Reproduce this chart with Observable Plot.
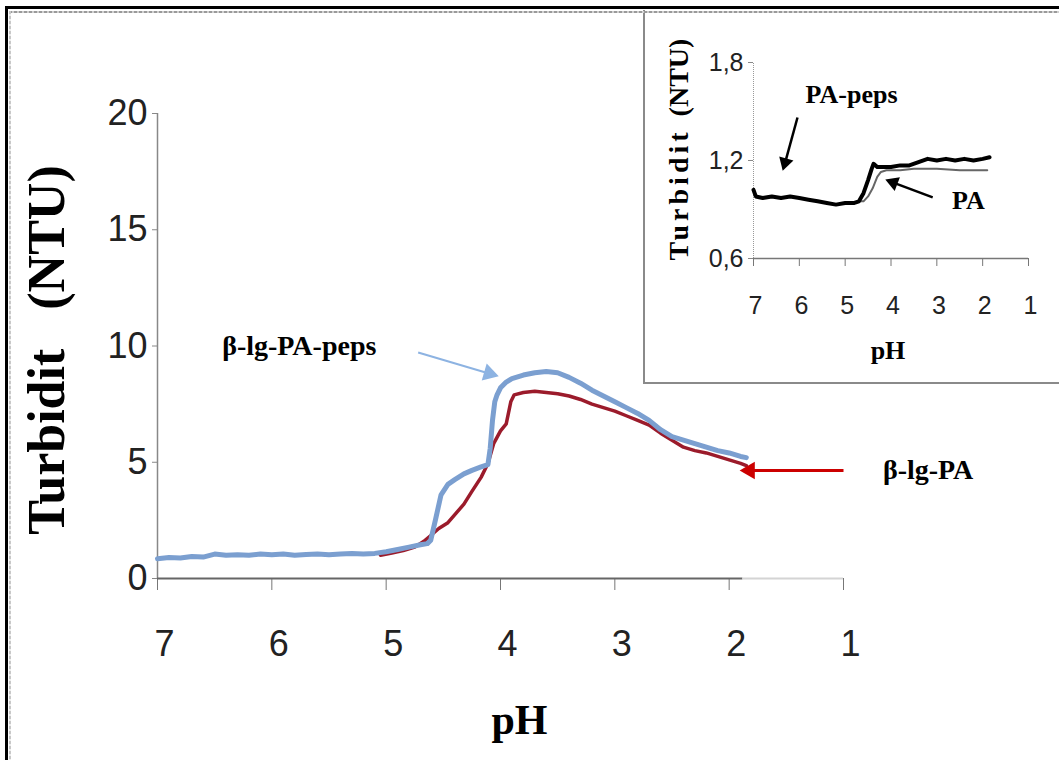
<!DOCTYPE html>
<html>
<head>
<meta charset="utf-8">
<script src="https://cdn.jsdelivr.net/npm/d3@7"></script>
<script src="https://cdn.jsdelivr.net/npm/@observablehq/plot@0.6"></script>
<style>
  html, body { margin: 0; padding: 0; background: #fff; }
  #wrap { position: relative; width: 1059px; height: 760px; overflow: hidden; background: #fff; }
  #main { position: absolute; left: 0; top: 0; }
  #inset { position: absolute; left: 643px; top: 10px; width: 416px; height: 372px;
           border-left: 2px solid #8a8a8a; border-bottom: 2px solid #8a8a8a; background: #fff; }
  .fr { position: absolute; background: #000; }
  .dot { position: absolute; }
</style>
</head>
<body>
<div id="wrap">
  <div id="main"></div>
  <div id="inset"></div>
  <div class="fr" style="left:5px;top:6px;width:1054px;height:3px"></div>
  <div class="fr" style="left:5px;top:6px;width:3px;height:754px"></div>
  <div class="dot" style="left:9px;top:11px;width:1050px;height:2px;background:repeating-linear-gradient(90deg,#9a9a9a 0 3px,#d0d0d0 3px 5px)"></div>
  <div class="dot" style="left:9px;top:11px;width:2px;height:749px;background:repeating-linear-gradient(180deg,#c8c8c8 0 3px,#eee 3px 5px)"></div>
</div>
<script>
// ---------- Main chart data ----------
const xTicks = [7, 6, 5, 4, 3, 2, 1];
const xTickLabels = ["7", "6", "5", "4", "3", "2", "1"];
const yTicks = [0, 5, 10, 15, 20];

// beta-lg-PA-peps (blue)
const pepsPH  = [7.0, 6.9, 6.8, 6.7, 6.6, 6.5, 6.4, 6.3, 6.2, 6.1, 6.0, 5.9, 5.8, 5.7, 5.6, 5.5, 5.4, 5.3, 5.2, 5.1,
                 5.0, 4.9, 4.8, 4.7, 4.64, 4.61, 4.57, 4.52, 4.46, 4.4, 4.32, 4.25, 4.17, 4.11, 4.09, 4.07, 4.05, 4.03,
                 4.0, 3.95, 3.9, 3.8, 3.7, 3.6, 3.5, 3.4, 3.3, 3.2, 3.1, 3.0, 2.9, 2.8, 2.7, 2.6, 2.5, 2.4, 2.3, 2.2,
                 2.1, 2.0, 1.9, 1.85];
const pepsNTU = [0.85, 0.9, 0.88, 0.95, 0.92, 1.05, 1.0, 1.02, 1.0, 1.05, 1.02, 1.05, 1.0, 1.03, 1.05, 1.02, 1.05, 1.08, 1.05, 1.08,
                 1.15, 1.25, 1.35, 1.45, 1.5, 1.65, 2.5, 3.6, 4.05, 4.25, 4.5, 4.65, 4.8, 4.9, 5.6, 6.8, 7.6, 7.9,
                 8.2, 8.45, 8.6, 8.75, 8.85, 8.9, 8.85, 8.65, 8.4, 8.1, 7.85, 7.6, 7.35, 7.1, 6.8, 6.4, 6.1, 5.95, 5.8, 5.65,
                 5.5, 5.4, 5.25, 5.2];

// beta-lg-PA (red)
const paPH  = [5.05, 4.95, 4.85, 4.75, 4.67, 4.61, 4.54, 4.46, 4.39, 4.32, 4.25, 4.17, 4.11, 4.06, 4.0, 3.95, 3.91, 3.88,
               3.8, 3.7, 3.6, 3.5, 3.4, 3.3, 3.2, 3.1, 3.0, 2.9, 2.8, 2.7, 2.6, 2.5, 2.4, 2.3, 2.2, 2.1, 2.0, 1.9, 1.85];
const paNTU = [1.0, 1.1, 1.2, 1.35, 1.6, 1.85, 2.15, 2.4, 2.8, 3.2, 3.75, 4.35, 4.95, 5.8, 6.35, 6.65, 7.6, 7.9,
               8.0, 8.05, 8.0, 7.95, 7.85, 7.7, 7.5, 7.35, 7.2, 7.0, 6.8, 6.6, 6.25, 5.95, 5.65, 5.5, 5.4, 5.25, 5.1, 4.95, 4.85];

// ---------- Inset data ----------
const insetXTicks = [7, 6, 5, 4, 3, 2, 1];
const insetXTickLabels = ["7", "6", "5", "4", "3", "2", "1"];
const insetYTicks = [0.6, 1.2, 1.8];
const insetYTickLabels = ["0,6", "1,2", "1,8"];

const inPepsPH  = [7.0, 6.95, 6.8, 6.6, 6.4, 6.2, 6.0, 5.8, 5.6, 5.4, 5.2, 5.0, 4.8, 4.7, 4.6, 4.5, 4.42, 4.38,
                   4.3, 4.2, 4.0, 3.8, 3.6, 3.4, 3.2, 3.0, 2.8, 2.6, 2.4, 2.2, 2.0, 1.85];
const inPepsNTU = [1.02, 0.98, 0.97, 0.98, 0.97, 0.98, 0.97, 0.96, 0.95, 0.94, 0.93, 0.94, 0.94, 0.95, 1.0, 1.08, 1.15, 1.18,
                   1.16, 1.16, 1.16, 1.17, 1.17, 1.19, 1.21, 1.2, 1.21, 1.2, 1.21, 1.2, 1.21, 1.22];
const inPaPH  = [4.7, 4.6, 4.5, 4.4, 4.3, 4.22, 4.1, 3.8, 3.5, 3.0, 2.5, 2.0, 1.9];
const inPaNTU = [0.95, 0.95, 0.98, 1.03, 1.1, 1.13, 1.14, 1.14, 1.15, 1.15, 1.14, 1.14, 1.14];

// ---------- Annotations ----------
const mainLabels = [
  {text: "β-lg-PA-peps", x: 5.76, y: 10.0},
  {text: "β-lg-PA", x: 0.26, y: 4.65}
];
// shaft from (x1,y1) to head centre (x2,y2); head rotation in degrees
const mainArrows = [
  {x1: 4.72, y1: 9.72, x2: 4.10, y2: 8.82, rot: 106.4, color: "#8db3e2", w: 2},
  {x1: 1.0, y1: 4.65, x2: 1.82, y2: 4.65, rot: 270, color: "#cc0000", w: 3}
];
const insetLabels = [
  {text: "PA-peps", x: 4.86, y: 1.6},
  {text: "PA", x: 2.31, y: 0.955}
];
const insetArrows = [
  {x1: 6.04, y1: 1.463, x2: 6.31, y2: 1.187, rot: 196.4},
  {x1: 3.09, y1: 0.974, x2: 3.95, y2: 1.065, rot: 290.7}
];

const peps = pepsPH.map((p, i) => ({pH: p, ntu: pepsNTU[i]}));
const pa = paPH.map((p, i) => ({pH: p, ntu: paNTU[i]}));
const inPeps = inPepsPH.map((p, i) => ({pH: p, ntu: inPepsNTU[i]}));
const inPa = inPaPH.map((p, i) => ({pH: p, ntu: inPaNTU[i]}));

const serif = "'Liberation Serif', 'Times New Roman', serif";
const sans = "'Liberation Sans', Arial, sans-serif";

const main = Plot.plot({
  width: 1059, height: 760,
  marginLeft: 157, marginRight: 216, marginTop: 113, marginBottom: 182,
  x: {domain: [7, 1]},
  y: {domain: [0, 20]},
  style: {background: "transparent", fontFamily: sans, overflow: "visible"},
  marks: [
    Plot.axisY({ticks: yTicks, tickSize: 5, tickPadding: 5, fontSize: 36, stroke: "#888", fill: "#222", label: null}),
    Plot.axisX({ticks: xTicks, tickSize: 12, tickFormat: () => "", stroke: "#777", label: null}),
    Plot.axisX({ticks: xTicks, tickSize: 0, tickPadding: 52, dx: 7, fontSize: 36, fill: "#222", label: null,
      tickFormat: d => xTickLabels[xTicks.indexOf(d)]}),
    Plot.ruleX([7], {y1: 0, y2: 20, stroke: "#888", strokeWidth: 1.5}),
    Plot.ruleY([0], {x1: 7, x2: 1.88, stroke: "#666", strokeWidth: 2}),
    Plot.ruleY([0], {x1: 1.88, x2: 1, stroke: "#d4d4d4", strokeWidth: 2}),
    Plot.line(pa, {x: "pH", y: "ntu", stroke: "#9b1b2b", strokeWidth: 3.5, strokeLinejoin: "round"}),
    Plot.line(peps, {x: "pH", y: "ntu", stroke: "#7b9fd0", strokeWidth: 5, strokeLinejoin: "round"}),
    Plot.link(mainArrows, {x1: "x1", y1: "y1", x2: "x2", y2: "y2", stroke: d => d.color, strokeWidth: d => d.w}),
    Plot.dot(mainArrows, {x: "x2", y: "y2", symbol: "triangle", r: 6.5, rotate: "rot", fill: d => d.color, stroke: "none"}),
    Plot.text(mainLabels, {x: "x", y: "y", text: "text", fontFamily: serif, fontWeight: "bold", fontSize: 28, fill: "#000", textAnchor: "middle", lineAnchor: "middle"}),
    Plot.text(["Turbidit\u00a0\u00a0\u00a0(NTU)"], {frameAnchor: "left", dx: -110, dy: 4, rotate: -90, fontFamily: serif, fontWeight: "bold", fontSize: 52, fill: "#000", textAnchor: "middle", lineAnchor: "middle"}),
    Plot.text(["pH"], {frameAnchor: "bottom", dx: 19, dy: 142, fontFamily: serif, fontWeight: "bold", fontSize: 42, fill: "#000", textAnchor: "middle", lineAnchor: "middle"})
  ]
});
document.getElementById("main").appendChild(main);

const inset = Plot.plot({
  width: 414, height: 372,
  marginLeft: 108, marginRight: 31, marginTop: 52, marginBottom: 124,
  x: {domain: [7, 1]},
  y: {domain: [0.6, 1.8]},
  style: {background: "transparent", fontFamily: sans, overflow: "visible"},
  marks: [
    Plot.axisY({ticks: insetYTicks, tickSize: 5, tickPadding: 5, fontSize: 25, stroke: "#888", fill: "#222", label: null,
      tickFormat: d => insetYTickLabels[insetYTicks.indexOf(d)]}),
    Plot.axisX({ticks: insetXTicks, tickSize: 8, tickFormat: () => "", stroke: "#777", label: null}),
    Plot.axisX({ticks: insetXTicks, tickSize: 0, tickPadding: 38, dx: 2, fontSize: 25, fill: "#222", label: null,
      tickFormat: d => insetXTickLabels[insetXTicks.indexOf(d)]}),
    Plot.ruleX([7], {y1: 0.6, y2: 1.8, stroke: "#999", strokeWidth: 1, strokeDasharray: "1,1"}),
    Plot.ruleY([0.6], {x1: 7, x2: 1, stroke: "#777", strokeWidth: 1.5}),
    Plot.line(inPa, {x: "pH", y: "ntu", stroke: "#666", strokeWidth: 2}),
    Plot.line(inPeps, {x: "pH", y: "ntu", stroke: "#000", strokeWidth: 4, strokeLinejoin: "round"}),
    Plot.link(insetArrows, {x1: "x1", y1: "y1", x2: "x2", y2: "y2", stroke: "#000", strokeWidth: 2.5}),
    Plot.dot(insetArrows, {x: "x2", y: "y2", symbol: "triangle", r: 5.5, rotate: "rot", fill: "#000", stroke: "none"}),
    Plot.text(insetLabels, {x: "x", y: "y", text: "text", fontFamily: serif, fontWeight: "bold", fontSize: 26, fill: "#000", textAnchor: "middle", lineAnchor: "middle"}),
    Plot.text(["(NTU)"], {frameAnchor: "left", dx: -74, dy: -83, rotate: -90, fontFamily: serif, fontWeight: "bold", fontSize: 28, fill: "#000", textAnchor: "middle", lineAnchor: "middle"}),
    Plot.text(["Turbidit"], {frameAnchor: "left", dx: -74, dy: 34, rotate: -90, fontFamily: serif, fontWeight: "bold", fontSize: 28, fill: "#000", textAnchor: "middle", lineAnchor: "middle"}),
    Plot.text(["pH"], {frameAnchor: "bottom", dx: -3, dy: 92, fontFamily: serif, fontWeight: "bold", fontSize: 26, fill: "#000", textAnchor: "middle", lineAnchor: "middle"})
  ]
});
// the inset's "Turbidit" is drawn letter-spaced in the original
inset.querySelectorAll("text").forEach(t => { if (t.textContent === "Turbidit") t.setAttribute("letter-spacing", "4"); });
document.getElementById("inset").appendChild(inset);
</script>
</body>
</html>
